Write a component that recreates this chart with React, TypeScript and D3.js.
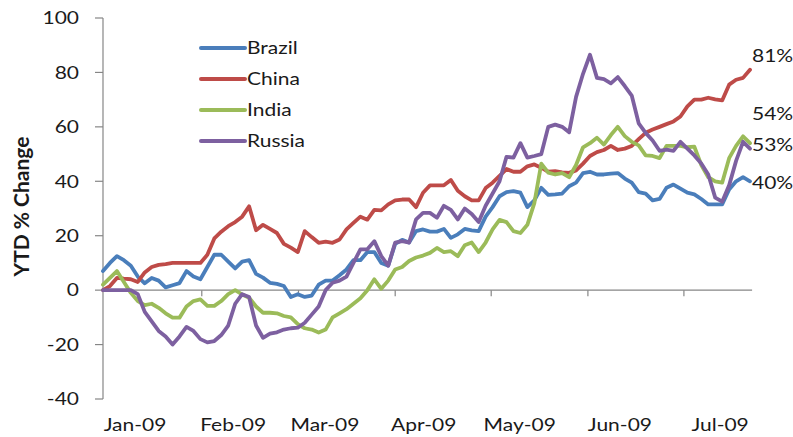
import React from "react";
import * as d3 from "d3";

// ---- data (YTD % change, equally spaced observations) ----
const seriesNames = ["Brazil", "China", "India", "Russia"];
const seriesColors = ["#4a7ebb", "#be4b48", "#9bbb59", "#7d60a0"];

const brazil = [7, 10, 12.5, 11, 9, 5, 2.5, 4.5, 3.5, 1, 1.8, 2.6, 7, 5, 4, 8.5, 13, 13, 10.5, 8,
  10.5, 11, 6, 4.6, 2.7, 2.3, 1.5, -2.5, -1.5, -2.5, -2, 2, 3.5, 3.5, 5.5, 7.6, 11, 11, 14, 14,
  10, 9, 17, 18.5, 17.5, 21.7, 22.3, 21.5, 21.5, 22.5, 19.2, 20.5, 22.5, 22, 21.7, 27, 30.5, 34.5, 36, 36.4,
  35.8, 30.5, 33, 37.6, 35, 35.2, 35.5, 38.2, 39.5, 43, 43.5, 42.5, 42.5, 42.8, 43, 41, 39.5, 36, 35.5, 33,
  33.5, 37.6, 38.8, 37.3, 35.8, 35.2, 33.5, 31.5, 31.5, 31.5, 37, 40, 41.5, 40];

const china = [0, 1.5, 4.5, 4.2, 4, 3, 6.5, 8.5, 9.3, 9.6, 10, 10, 10, 10, 10, 13, 19, 21.5, 23.5, 25,
  27, 30.8, 22, 24, 22.5, 21, 17, 15.6, 14, 21.7, 19.5, 17.4, 17.8, 17.4, 18.6, 22.3, 24.7, 27, 25.9, 29.5,
  29.3, 31.5, 33, 33.3, 33.3, 30.5, 35.8, 38.5, 38.5, 38.5, 40.5, 36.5, 34.5, 33, 33, 37.5, 39.5, 42, 44.5, 43.5,
  43.5, 45.5, 46.2, 45, 43.5, 43.7, 43.3, 43.1, 44, 46.5, 49.3, 50.7, 51.5, 53, 51.5, 52, 53, 55.5, 57.8, 59,
  60, 61, 62, 63.8, 67.5, 70, 70, 70.7, 70.1, 69.7, 75.5, 77.3, 78, 81];

const india = [2, 4.5, 7, 3, -1, -4, -5.5, -5, -6.5, -8.5, -10.1, -10.1, -6, -4, -3.4, -5.8, -5.8, -4, -1.5, 0,
  -1.6, -2.8, -6, -8.3, -8.3, -8.5, -9.5, -10, -12.5, -14, -14.5, -15.6, -14.5, -10, -8.5, -7, -5, -3, 0, 4,
  0.5, 3.5, 7.6, 8.5, 10.7, 12, 12.7, 13.7, 15.5, 14, 14.3, 12.5, 16.5, 17.5, 14, 17.5, 22.3, 25.8, 25, 21.7,
  21, 24, 32, 46.5, 43.2, 42.5, 43, 41.5, 46, 52.5, 54, 56, 53.5, 57, 60, 56.6, 54.5, 53.2, 49.5, 49.3,
  48.5, 53, 53, 53, 52.5, 52.7, 46, 41.5, 40, 39.5, 48.5, 53, 56.5, 54];

const russia = [0, 0, 0, 0, 0, -1.5, -8, -11.5, -15, -17, -20, -17, -13.5, -15, -18, -19.2, -18.7, -16.5, -13, -5,
  -1.5, -2.5, -13, -17.5, -16, -15.5, -14.5, -14, -13.8, -12, -9, -6, 0, 2.7, 3.5, 5, 10, 15, 15, 18,
  12.5, 9, 17.5, 18, 17.5, 26, 28.4, 28.4, 26.6, 31, 29.5, 26, 30, 28, 25, 31, 35.5, 40, 49, 48.7,
  54, 48.7, 49.3, 50, 60, 60.8, 60, 58, 71, 79.5, 86.5, 78, 77.5, 76, 78.3, 75, 71.5, 61.3, 57.8, 55,
  51.2, 51.6, 51.2, 54.5, 52, 49.5, 46.5, 42.5, 34, 32.5, 38.5, 47.5, 54.5, 52];

const seriesValues = [brazil, china, india, russia];

const yTicks = [-40, -20, 0, 20, 40, 60, 80, 100];
const monthLabels = ["Jan-09", "Feb-09", "Mar-09", "Apr-09", "May-09", "Jun-09", "Jul-09"];
const monthTickIdx = [14.2, 28.1, 42, 55.8, 69.7, 83.5];
const monthLabelIdx = [4.6, 18.7, 31.9, 46.1, 59.9, 74.3, 88.7];
const axisEndIdx = 93.3;

const endLabels = ["81%", "54%", "53%", "40%"];
const endLabelAnchor = [86, 65, 53.5, 39.6];

const FONT = "Lato, 'Open Sans', sans-serif";
const SX = 1.2;

function T({ x, y, anchor = "start", size = 17.5, weight = 400, children, rotate = 0 }: any) {
  const tr = rotate
    ? `translate(${x},${y}) rotate(${rotate})`
    : `translate(${x},${y}) scale(${SX},1)`;
  return (
    <text transform={tr} textAnchor={anchor} fontFamily={FONT} fontSize={size}
      fontWeight={weight} fill="#1a1a1a">{children}</text>
  );
}

export default function App() {
  const W = 793, H = 437;
  const n = brazil.length;
  const x = d3.scaleLinear().domain([0, n - 1]).range([103, 750]);
  const y = d3.scaleLinear().domain([-40, 100]).range([399, 18]);
  const line = d3.line<number>().x((_, i) => x(i)).y((d) => y(d));
  const x0 = x(0);
  const y0 = y(0);
  const axisColor = "#868686";

  return (
    <svg width={W} height={H} style={{ position: "absolute", left: 0, top: 0, background: "#fff" }}>
      <rect width={W} height={H} fill="#fff" />
      {/* y axis */}
      <line x1={x0} x2={x0} y1={y(100)} y2={y(-40)} stroke={axisColor} strokeWidth={1.2} />
      {yTicks.map((t) => (
        <g key={t}>
          <line x1={x0 - 8} x2={x0} y1={y(t)} y2={y(t)} stroke={axisColor} strokeWidth={1.2} />
          <T x={79} y={y(t) + 6.3} anchor="end">{String(t)}</T>
        </g>
      ))}
      {/* x axis on zero line */}
      <line x1={x0} x2={x(axisEndIdx)} y1={y0} y2={y0} stroke={axisColor} strokeWidth={1.2} />
      {monthTickIdx.map((t, i) => (
        <line key={i} x1={x(t)} x2={x(t)} y1={y0} y2={y0 + 6} stroke={axisColor} strokeWidth={1.2} />
      ))}
      {monthLabels.map((m, i) => (
        <T key={m} x={x(monthLabelIdx[i])} y={431} anchor="middle">{m}</T>
      ))}
      {/* y title */}
      <T x={28.5} y={206.5} anchor="middle" size={21} weight={700} rotate={-90}>YTD % Change</T>
      {/* series */}
      {seriesValues.map((vals, si) => (
        <path key={si} d={line(vals) || ""} fill="none" stroke={seriesColors[si]}
          strokeWidth={3.8} strokeLinejoin="round" strokeLinecap="round" />
      ))}
      {/* end labels */}
      {endLabels.map((lab, i) => (
        <T key={lab} x={752} y={y(endLabelAnchor[i]) + 6.3}>{lab}</T>
      ))}
      {/* legend */}
      {seriesNames.map((nm, i) => {
        const ly = 48 + i * 31;
        return (
          <g key={nm}>
            <line x1={201} x2={245} y1={ly} y2={ly} stroke={seriesColors[i]} strokeWidth={4} strokeLinecap="round" />
            <T x={247} y={ly + 6.3}>{nm}</T>
          </g>
        );
      })}
    </svg>
  );
}
